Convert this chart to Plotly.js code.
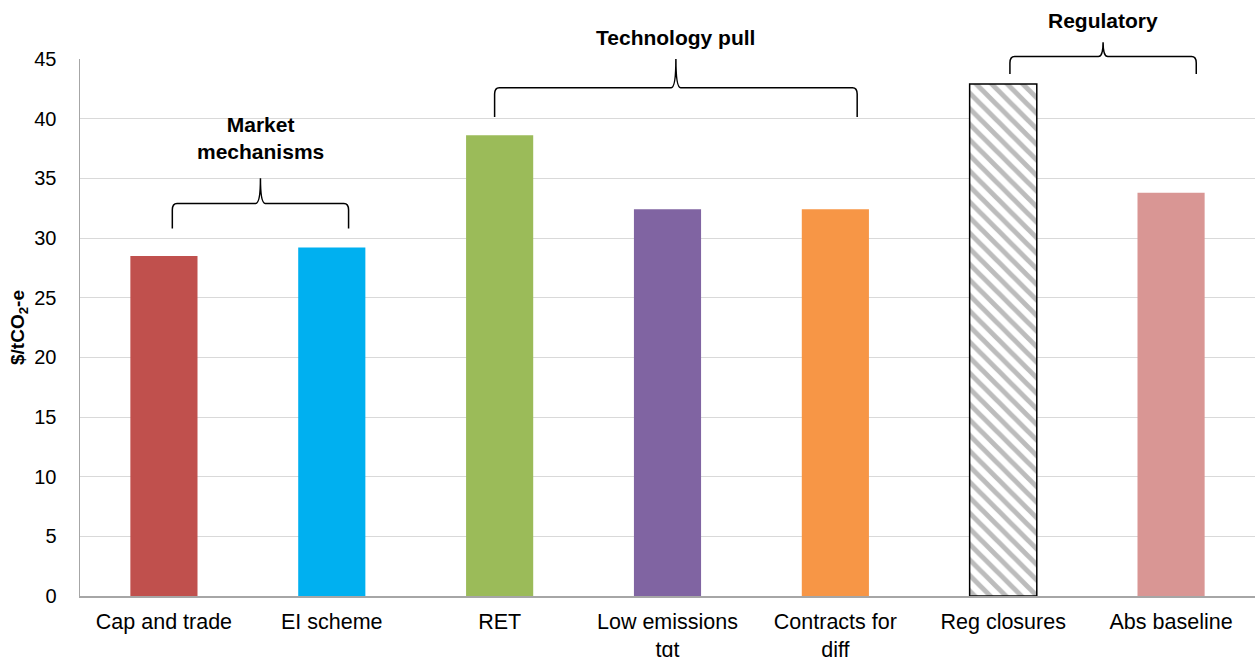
<!DOCTYPE html>
<html><head><meta charset="utf-8">
<script src="https://cdn.plot.ly/plotly-3.0.1.min.js"></script>
<style>body{margin:0;background:#fff}#chart{width:1255px;height:657px}</style>
</head><body><div id="chart"></div>
<script>
const categories = ["Cap and trade","EI scheme","RET","Low emissions<br>tgt","Contracts for<br>diff","Reg closures","Abs baseline"];
const values = [28.5, 29.2, 38.6, 32.4, 32.4, 42.9, 33.8];
const colors = ["#C0504D","#00B0F0","#9BBB59","#8064A2","#F79646","#FFFFFF","#D99694"];
const hatched = [false,false,false,false,false,true,false];
// group braces
const groupLabels = ["Market<br>mechanisms","Technology pull","Regulatory"];
const groupStart = [0.05, 1.97, 5.04];
const groupEnd = [1.10, 4.13, 6.15];
const braceY = [32.9, 42.6, 45.2];
const braceEndY = [30.8, 40.15, 43.75];
const braceTipY = [35.0, 45.0, 46.4];
const labelY = [38.4, 46.8, 48.2];
const yMax = 45;
const n = categories.length;

const px = i => (i + 0.5) / n;
const py = v => v / yMax;

const shapes = [];
const annotations = [];
for (let g = 0; g < groupLabels.length; g++) {
  const x0 = px(groupStart[g]), x1 = px(groupEnd[g]), xm = (x0 + x1) / 2;
  const yb = py(braceY[g]), ye = py(braceEndY[g]), yt = py(braceTipY[g]);
  const dx = 0.004, dy = 0.012;
  const path = `M ${x0} ${ye} L ${x0} ${yb - dy} Q ${x0} ${yb} ${x0 + dx} ${yb} L ${xm - dx} ${yb} Q ${xm} ${yb} ${xm} ${yt} Q ${xm} ${yb} ${xm + dx} ${yb} L ${x1 - dx} ${yb} Q ${x1} ${yb} ${x1} ${yb - dy} L ${x1} ${ye}`;
  shapes.push({type: 'path', xref: 'paper', yref: 'paper', path: path, line: {color: '#000', width: 1.5}});
  annotations.push({xref: 'paper', yref: 'paper', x: xm, y: py(labelY[g]), text: '<b>' + groupLabels[g] + '</b>',
    showarrow: false, font: {family: 'Liberation Sans, Arial', size: 21, color: '#000'}, xanchor: 'center', yanchor: 'middle'});
}

const solidX = [], solidY = [], solidC = [], hatchX = [], hatchY = [];
categories.forEach((c, i) => {
  if (hatched[i]) { hatchX.push(c); hatchY.push(values[i]); }
  else { solidX.push(c); solidY.push(values[i]); solidC.push(colors[i]); }
});

const traces = [
  {type: 'bar', x: solidX, y: solidY, width: 0.4, marker: {color: solidC, line: {width: 0}}},
  {type: 'bar', x: hatchX, y: hatchY, width: 0.4,
    marker: {color: '#FFFFFF', line: {color: '#000', width: 1.5},
      pattern: {shape: '\\', fgcolor: '#7a7a7a', bgcolor: '#FFFFFF', size: 11, solidity: 0.45, fillmode: 'overlay'}}}
];

const layout = {
  width: 1255, height: 657,
  margin: {l: 80, r: 0, t: 59, b: 61},
  paper_bgcolor: '#fff', plot_bgcolor: '#fff',
  showlegend: false, barmode: 'overlay',
  font: {family: 'Liberation Sans, Arial', size: 20, color: '#000'},
  xaxis: {type: 'category', categoryorder: 'array', categoryarray: categories, showgrid: false, showline: true,
    linecolor: '#a6a6a6', linewidth: 1.5, ticks: '', tickfont: {size: 21.5}, ticklabelstandoff: 6,
    range: [-0.5, n - 0.5], automargin: false},
  yaxis: {range: [0, yMax], dtick: 5, showgrid: true, gridcolor: '#d9d9d9', gridwidth: 1,
    showline: true, linecolor: '#a6a6a6', linewidth: 1.5, ticks: '', tickfont: {size: 20}, ticklabelstandoff: 18,
    zeroline: false, automargin: false,
    title: {text: '<b>$/tCO<sub>2</sub>-e</b>', font: {size: 19}, standoff: 4}},
  shapes: shapes,
  annotations: annotations
};
Plotly.newPlot('chart', traces, layout, {displayModeBar: false, staticPlot: true});
</script></body></html>
